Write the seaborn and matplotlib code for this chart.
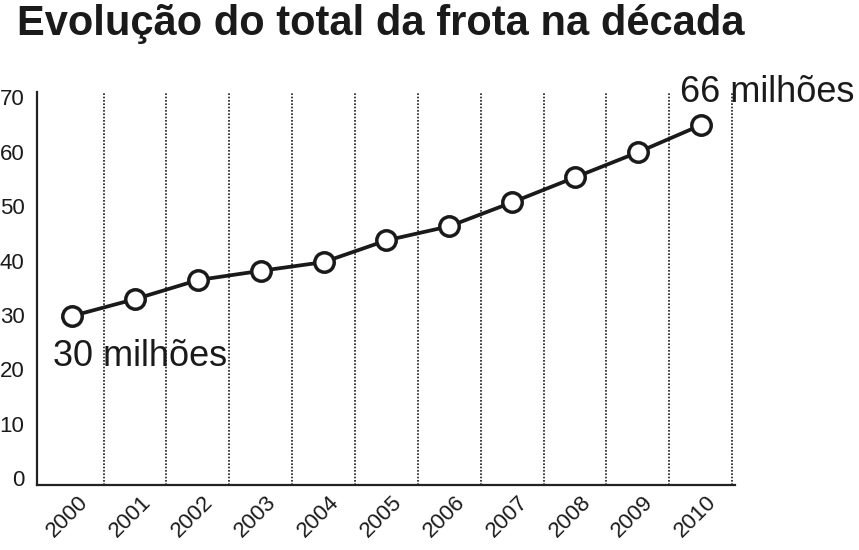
import matplotlib
matplotlib.use("Agg")
import matplotlib.pyplot as plt
import matplotlib.transforms as mtransforms
import seaborn as sns
import pandas as pd
import numpy as np

years = ["2000", "2001", "2002", "2003", "2004", "2005", "2006", "2007", "2008", "2009", "2010"]
frota = [29.8, 32.9, 36.4, 38.1, 39.7, 43.7, 46.3, 50.7, 55.3, 59.9, 64.9]
y_ticks = [0, 10, 20, 30, 40, 50, 60, 70]
title = "Evolução do total da frota na década"
label_first = "30 milhões"
label_last = "66 milhões"

sns.set_theme(style="white")
plt.rcParams["font.family"] = ["Liberation Sans", "DejaVu Sans"]

df = pd.DataFrame({"idx": np.arange(len(years)), "ano": years, "frota": frota})

fig = plt.figure(figsize=(8.59, 5.5), dpi=100)
ax = fig.add_axes([37 / 859, 1 - 485 / 550, (735 - 37) / 859, (485 - 92) / 550])

# vertical dotted separators
for i in range(len(years)):
    ax.axvline(i + 0.5, color="#1a1a1a", linestyle=(0, (1, 1)), linewidth=1.2, zorder=1)

sns.lineplot(data=df, x="idx", y="frota", ax=ax, color="#1a1a1a", linewidth=2.7,
             marker="o", markersize=14, markerfacecolor="white",
             markeredgecolor="#1a1a1a", markeredgewidth=2.5, zorder=3)

ax.set_xlim(-0.56, len(years) - 1 + 0.545)
ax.set_ylim(-1.3, 71)
ax.set_xticks(df["idx"])
ax.set_xticklabels(years)
ax.set_yticks(y_ticks)
ax.set_yticklabels([str(v) for v in y_ticks])
ax.tick_params(axis="both", labelsize=16, labelcolor="#1a1a1a", length=0)
ax.tick_params(axis="y", pad=9)
ax.tick_params(axis="x", pad=5, labelrotation=45)
ax.set_xlabel("")
ax.set_ylabel("")

for side in ["top", "right"]:
    ax.spines[side].set_visible(False)
for side in ["left", "bottom"]:
    ax.spines[side].set_color("#222222")
    ax.spines[side].set_linewidth(1.6)

ax.annotate(label_first, xy=(0, frota[0]), xytext=(-19, -50), textcoords="offset pixels",
            fontsize=26, color="#1a1a1a", ha="left", va="baseline")
ax.annotate(label_last, xy=(len(years) - 1, frota[-1]), xytext=(-21, 23), textcoords="offset pixels",
            fontsize=26, color="#1a1a1a", ha="left", va="baseline")

fig.text(17 / 859, 1 - 35 / 550, title, fontsize=30, fontweight="bold",
         color="#1a1a1a", ha="left", va="baseline")

fig.canvas.draw()
offset = mtransforms.ScaledTranslation(-5 / 100, 0, fig.dpi_scale_trans)
for lab in ax.get_xticklabels():
    lab.set_horizontalalignment("center")
    lab.set_transform(lab.get_transform() + offset)

fig.savefig("out.png", dpi=100)
